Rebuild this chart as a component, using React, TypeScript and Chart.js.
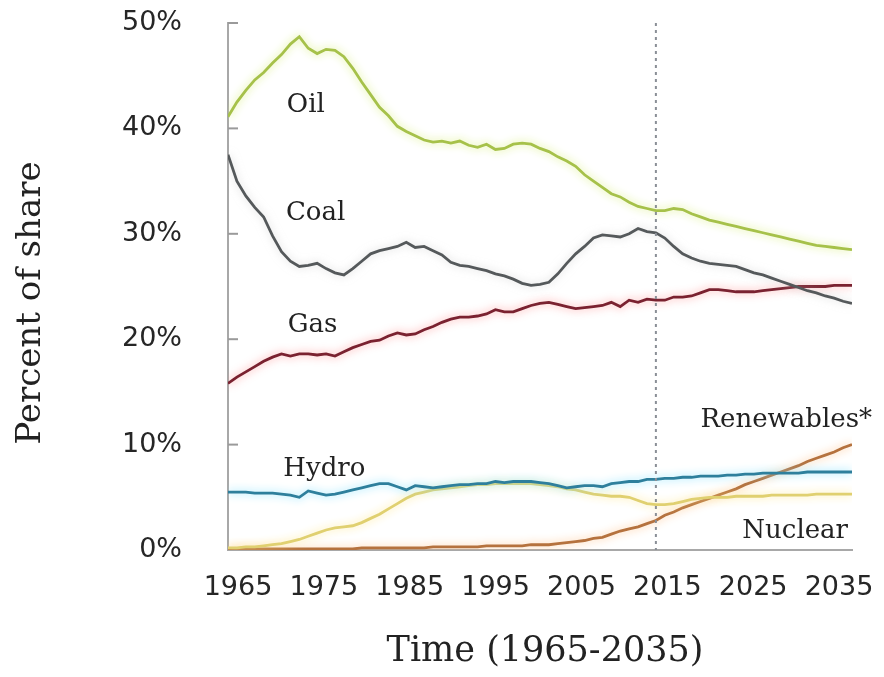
import React, { useEffect, useRef } from "react";
import { Chart, registerables } from "chart.js";

Chart.register(...registerables);

const years: number[] = Array.from({ length: 71 }, (_, i) => 1965 + i);
const xTickLabels: number[] = [1965, 1975, 1985, 1995, 2005, 2015, 2025, 2035];
const yTicks: number[] = [0, 10, 20, 30, 40, 50];
const historyEndYear = 2013;

const oil: number[] = [
  41.1, 42.5, 43.6, 44.6, 45.3, 46.2, 47.0, 48.0, 48.7, 47.6,
  47.1, 47.5, 47.4, 46.8, 45.7, 44.4, 43.2, 42.0, 41.2, 40.2,
  39.7, 39.3, 38.9, 38.7, 38.8, 38.6, 38.8, 38.4, 38.2, 38.5,
  38.0, 38.1, 38.5, 38.6, 38.5, 38.1, 37.8, 37.3, 36.9, 36.4,
  35.6, 35.0, 34.4, 33.8, 33.5, 33.0, 32.6, 32.4, 32.2, 32.2,
  32.4, 32.3, 31.9, 31.6, 31.3, 31.1, 30.9, 30.7, 30.5, 30.3,
  30.1, 29.9, 29.7, 29.5, 29.3, 29.1, 28.9, 28.8, 28.7, 28.6,
  28.5,
];
const coal: number[] = [
  37.5, 35.0, 33.6, 32.5, 31.6, 29.8, 28.3, 27.4, 26.9, 27.0,
  27.2, 26.7, 26.3, 26.1, 26.7, 27.4, 28.1, 28.4, 28.6, 28.8,
  29.2, 28.7, 28.8, 28.4, 28.0, 27.3, 27.0, 26.9, 26.7, 26.5,
  26.2, 26.0, 25.7, 25.3, 25.1, 25.2, 25.4, 26.2, 27.2, 28.1,
  28.8, 29.6, 29.9, 29.8, 29.7, 30.0, 30.5, 30.2, 30.1, 29.6,
  28.8, 28.1, 27.7, 27.4, 27.2, 27.1, 27.0, 26.9, 26.6, 26.3,
  26.1, 25.8, 25.5, 25.2, 24.9, 24.6, 24.4, 24.1, 23.9, 23.6,
  23.4,
];
const gas: number[] = [
  15.8, 16.4, 16.9, 17.4, 17.9, 18.3, 18.6, 18.4, 18.6, 18.6,
  18.5, 18.6, 18.4, 18.8, 19.2, 19.5, 19.8, 19.9, 20.3, 20.6,
  20.4, 20.5, 20.9, 21.2, 21.6, 21.9, 22.1, 22.1, 22.2, 22.4,
  22.8, 22.6, 22.6, 22.9, 23.2, 23.4, 23.5, 23.3, 23.1, 22.9,
  23.0, 23.1, 23.2, 23.5, 23.1, 23.7, 23.5, 23.8, 23.7, 23.7,
  24.0, 24.0, 24.1, 24.4, 24.7, 24.7, 24.6, 24.5, 24.5, 24.5,
  24.6, 24.7, 24.8, 24.9, 25.0, 25.0, 25.0, 25.0, 25.1, 25.1,
  25.1,
];
const hydro: number[] = [
  5.5, 5.5, 5.5, 5.4, 5.4, 5.4, 5.3, 5.2, 5.0, 5.6,
  5.4, 5.2, 5.3, 5.5, 5.7, 5.9, 6.1, 6.3, 6.3, 6.0,
  5.7, 6.1, 6.0, 5.9, 6.0, 6.1, 6.2, 6.2, 6.3, 6.3,
  6.5, 6.4, 6.5, 6.5, 6.5, 6.4, 6.3, 6.1, 5.9, 6.0,
  6.1, 6.1, 6.0, 6.3, 6.4, 6.5, 6.5, 6.7, 6.7, 6.8,
  6.8, 6.9, 6.9, 7.0, 7.0, 7.0, 7.1, 7.1, 7.2, 7.2,
  7.3, 7.3, 7.3, 7.3, 7.3, 7.4, 7.4, 7.4, 7.4, 7.4,
  7.4,
];
const nuclear: number[] = [
  0.2, 0.2, 0.3, 0.3, 0.4, 0.5, 0.6, 0.8, 1.0, 1.3,
  1.6, 1.9, 2.1, 2.2, 2.3, 2.6, 3.0, 3.4, 3.9, 4.4,
  4.9, 5.3, 5.5, 5.7, 5.8, 5.9, 6.0, 6.1, 6.2, 6.2,
  6.3, 6.3, 6.3, 6.3, 6.3, 6.2, 6.1, 6.0, 5.8, 5.7,
  5.5, 5.3, 5.2, 5.1, 5.1, 5.0, 4.7, 4.4, 4.3, 4.3,
  4.4, 4.6, 4.8, 4.9, 5.0, 5.0, 5.0, 5.1, 5.1, 5.1,
  5.1, 5.2, 5.2, 5.2, 5.2, 5.2, 5.3, 5.3, 5.3, 5.3,
  5.3,
];
const renewables: number[] = [
  0.1, 0.1, 0.1, 0.1, 0.1, 0.1, 0.1, 0.1, 0.1, 0.1,
  0.1, 0.1, 0.1, 0.1, 0.1, 0.2, 0.2, 0.2, 0.2, 0.2,
  0.2, 0.2, 0.2, 0.3, 0.3, 0.3, 0.3, 0.3, 0.3, 0.4,
  0.4, 0.4, 0.4, 0.4, 0.5, 0.5, 0.5, 0.6, 0.7, 0.8,
  0.9, 1.1, 1.2, 1.5, 1.8, 2.0, 2.2, 2.5, 2.8, 3.3,
  3.6, 4.0, 4.3, 4.6, 4.9, 5.2, 5.5, 5.8, 6.2, 6.5,
  6.8, 7.1, 7.4, 7.7, 8.0, 8.4, 8.7, 9.0, 9.3, 9.7,
  10.0,
];

const seriesNames = ["Oil", "Coal", "Gas", "Hydro", "Nuclear", "Renewables*"];
const seriesValues = [oil, coal, gas, hydro, nuclear, renewables];
const seriesColors = ["#a6c14a", "#55595b", "#7a2230", "#2e7f9c", "#e0d070", "#b5723e"];
const glowColors = [
  "rgba(215,238,120,0.95)",
  "rgba(190,190,190,0.6)",
  "rgba(255,140,140,0.85)",
  "rgba(130,225,255,0.95)",
  "rgba(255,232,140,0.95)",
  "rgba(255,190,130,0.9)",
];

// label text, anchor year, anchor value (left/baseline placement)
const labelTexts = ["Oil", "Coal", "Gas", "Hydro", "Renewables*", "Nuclear"];
const labelYears = [1971.6, 1971.5, 1971.7, 1971.2, 2018.0, 2022.7];
const labelValues = [41.6, 31.3, 20.7, 7.0, 11.7, 1.15];

const FONT_SANS = "'DejaVu Sans', sans-serif";
const FONT_SERIF = "'DejaVu Serif', serif";

const glowPlugin = {
  id: "glow",
  beforeDatasetDraw(chart: any, args: any) {
    const ctx = chart.ctx;
    ctx.save();
    ctx.shadowColor = glowColors[args.index];
    ctx.shadowBlur = 9;
  },
  afterDatasetDraw(chart: any) {
    chart.ctx.restore();
  },
};

const decorPlugin = {
  id: "decor",
  afterDatasetsDraw(chart: any) {
    const ctx = chart.ctx;
    const xs = chart.scales.x;
    const ys = chart.scales.y;
    const area = chart.chartArea;
    ctx.save();
    // inner tick marks on y axis
    ctx.strokeStyle = "#9a9a9a";
    ctx.lineWidth = 2;
    yTicks.forEach((v) => {
      if (v === 0) return;
      const py = ys.getPixelForValue(v);
      ctx.beginPath();
      ctx.moveTo(area.left, py);
      ctx.lineTo(area.left + 10, py);
      ctx.stroke();
    });
    // dashed vertical line at end of history
    const dx = xs.getPixelForValue(historyEndYear);
    ctx.strokeStyle = "#8a8f96";
    ctx.lineWidth = 2;
    ctx.setLineDash([3, 4]);
    ctx.beginPath();
    ctx.moveTo(dx, area.top);
    ctx.lineTo(dx, area.bottom);
    ctx.stroke();
    ctx.setLineDash([]);
    // series labels
    ctx.fillStyle = "#222";
    ctx.font = `26px ${FONT_SERIF}`;
    ctx.textAlign = "left";
    ctx.textBaseline = "alphabetic";
    labelTexts.forEach((t, i) => {
      ctx.fillText(t, xs.getPixelForValue(labelYears[i]), ys.getPixelForValue(labelValues[i]));
    });
    ctx.restore();
  },
  afterDraw(chart: any) {
    const ctx = chart.ctx;
    ctx.save();
    ctx.fillStyle = "#222";
    ctx.textAlign = "center";
    ctx.textBaseline = "middle";
    ctx.font = `35px ${FONT_SERIF}`;
    ctx.fillText("Time (1965-2035)", 545, 652);
    ctx.translate(31, 303);
    ctx.rotate(-Math.PI / 2);
    ctx.font = `34px ${FONT_SERIF}`;
    ctx.fillText("Percent of share", 0, 0);
    ctx.restore();
  },
};

const zeroPadding = (scale: any) => {
  scale.paddingTop = 0;
  scale.paddingBottom = 0;
  scale.paddingLeft = 0;
  scale.paddingRight = 0;
};

export default function App() {
  const ref = useRef<HTMLCanvasElement | null>(null);

  useEffect(() => {
    if (!ref.current) return;
    const datasets = seriesNames.map((name, i) => ({
      label: name,
      data: years.map((yr, j) => ({ x: yr, y: seriesValues[i][j] })),
      borderColor: seriesColors[i],
      backgroundColor: seriesColors[i],
      borderWidth: 2.8,
      pointRadius: 0,
      tension: 0,
      fill: false,
      xAxisID: "x",
      yAxisID: "y",
    }));
    const chart = new Chart(ref.current, {
      type: "line",
      data: { datasets },
      options: {
        animation: false,
        responsive: true,
        maintainAspectRatio: false,
        layout: { padding: { top: 23, right: 32, left: 0, bottom: 0 } },
        plugins: {
          legend: { display: false },
          tooltip: { enabled: false },
          title: { display: false },
        },
        scales: {
          x: {
            type: "linear",
            display: false,
            min: 1965,
            max: 2035,
          },
          xl: {
            type: "linear",
            position: "bottom",
            min: 1963.835,
            max: 2036.51,
            afterBuildTicks: (scale: any) => {
              scale.ticks = xTickLabels.map((v) => ({ value: v }));
            },
            afterFit: (scale: any) => {
              scale.height = 127;
              zeroPadding(scale);
            },
            grid: { display: false, drawTicks: false },
            border: { display: true, color: "#a8a8a8", width: 2 },
            ticks: {
              autoSkip: false,
              maxRotation: 0,
              padding: 22,
              color: "#262626",
              font: { family: FONT_SANS, size: 27 },
              callback: (v: any) => String(v),
            },
          },
          y: {
            type: "linear",
            min: 0,
            max: 50,
            afterBuildTicks: (scale: any) => {
              scale.ticks = yTicks.map((v) => ({ value: v }));
            },
            afterFit: (scale: any) => {
              scale.width = 228;
              zeroPadding(scale);
            },
            grid: { display: false, drawTicks: false },
            border: { display: true, color: "#a8a8a8", width: 2 },
            ticks: {
              padding: 46,
              color: "#262626",
              font: { family: FONT_SANS, size: 27 },
              callback: (v: any) => `${v}%`,
            },
          },
        },
      },
      plugins: [glowPlugin, decorPlugin],
    });
    return () => chart.destroy();
  }, []);

  return (
    <div style={{ position: "fixed", left: 0, top: 0, width: 884, height: 677, background: "#fff" }}>
      <canvas ref={ref} />
    </div>
  );
}
